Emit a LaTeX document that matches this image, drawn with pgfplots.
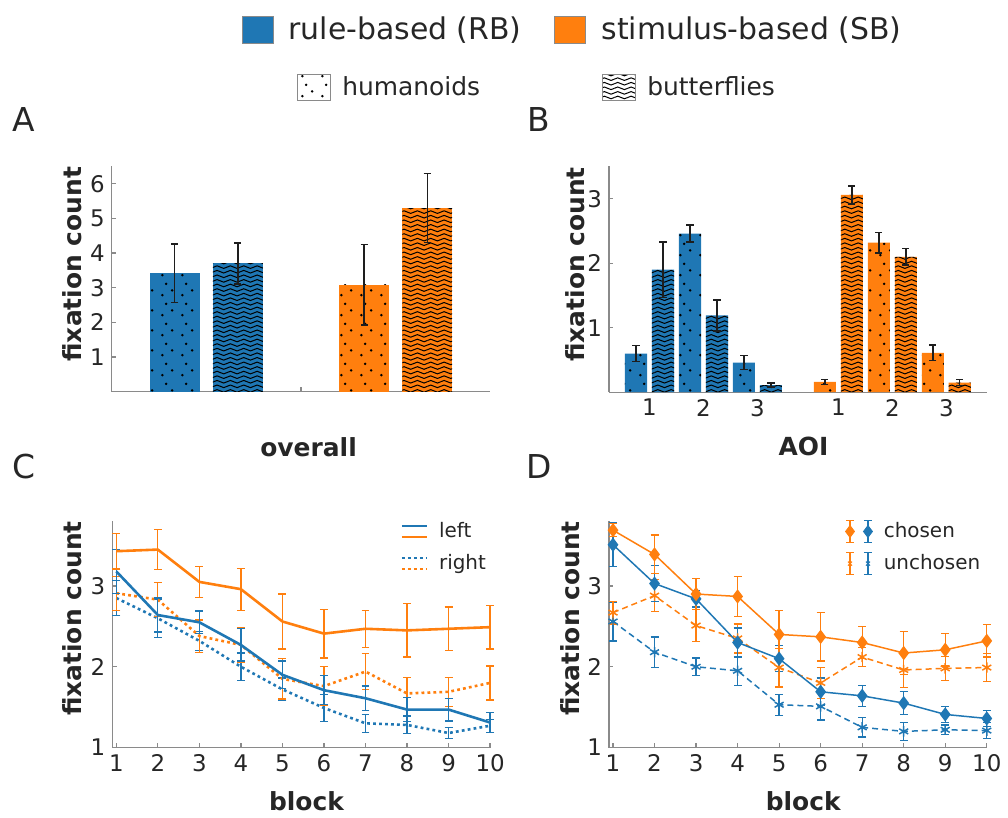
\documentclass[border=0pt]{standalone}
\usepackage{fontspec}
\setmainfont{DejaVu Sans}
\usepackage{pgfplots}
\pgfplotsset{compat=1.18}
\usepackage{pgfplotstable}
\usetikzlibrary{patterns.meta}

\definecolor{rb}{HTML}{1F77B4}
\definecolor{sb}{HTML}{FF7F0E}
\definecolor{axgray}{HTML}{8A8A8A}
\definecolor{txt}{HTML}{262626}
\definecolor{ebar}{HTML}{1E1E1E}

% fill patterns for the two stimulus sets
\tikzdeclarepattern{
  name=sparsedots, type=uncolored,
  bounding box={(0pt,0pt) and (10pt,10pt)},
  tile size={(10pt,10pt)},
  code={
    \fill (1.7pt,1.9pt) circle (0.7pt);
    \fill (6.6pt,4.3pt) circle (0.7pt);
    \fill (3.6pt,7.6pt) circle (0.7pt);
  }
}
\tikzdeclarepattern{
  name=waves, type=uncolored,
  bounding box={(-0.2pt,-1.3pt) and (6.9pt,1.3pt)},
  tile size={(6.7pt,2.3pt)},
  code={
    \draw[line width=0.5pt] (0pt,0pt) sin (1.675pt,0.65pt) cos (3.35pt,0pt)
      sin (5.025pt,-0.65pt) cos (6.7pt,0pt);
  }
}

\pgfplotsset{
  panel/.style={
    scale only axis,
    axis x line*=bottom, axis y line*=left,
    axis line style={axgray, line width=0.6pt},
    every tick/.style={axgray, line width=0.6pt},
    tick align=inside,
    major tick length=2.2pt,
    ticklabel style={text=txt, font=\fontsize{11.5}{13}\selectfont},
    /pgf/number format/assume math mode=true,
    label style={text=txt, font=\bfseries\fontsize{12.5}{14}\selectfont},
    clip=false,
  },
  barerr/.style={
    draw=none, mark=none,
    error bars/.cd, y dir=both, y explicit,
    error bar style={draw=ebar, line width=0.7pt},
    error mark options={draw=ebar, rotate=90, line width=0.7pt, mark size=1.8pt},
    /pgfplots/.cd,
  },
  lineerr/.style={
    error bars/.cd, y dir=both, y explicit,
    error bar style={solid, line width=0.65pt},
    error mark options={solid, rotate=90, line width=0.65pt, mark size=2pt},
    /pgfplots/.cd,
  },
  keyleg/.style={
    legend style={draw=none, fill=none, anchor=north west, inner sep=0pt,
      row sep=4pt, font=\fontsize{10}{12}\selectfont, text=txt,
      nodes={inner sep=1.5pt},
      /tikz/every odd column/.append style={column sep=4pt}},
    legend cell align=left,
  },
}

% panel A: overall fixation count
\pgfplotstableread{
x y e
1 3.42 0.84
}\ArbDots
\pgfplotstableread{
x y e
2 3.70 0.59
}\ArbWaves
\pgfplotstableread{
x y e
4 3.08 1.16
}\AsbDots
\pgfplotstableread{
x y e
5 5.30 1.00
}\AsbWaves

% panel B: fixation count per AOI
\pgfplotstableread{
x  y    e
1  0.60 0.12
3  2.46 0.13
5  0.46 0.11
}\BrbDots
\pgfplotstableread{
x  y    e
2  1.90 0.43
4  1.19 0.24
6  0.11 0.03
}\BrbWaves
\pgfplotstableread{
x  y    e
8  0.16 0.04
10 2.32 0.16
12 0.61 0.12
}\BsbDots
\pgfplotstableread{
x  y    e
9  3.06 0.14
11 2.10 0.13
13 0.15 0.05
}\BsbWaves

% panel C: left / right position by block
\pgfplotstableread{
x  rbL  rbLe sbL  sbLe rbR  rbRe sbR  sbRe
1  3.18 0.27 3.43 0.22 2.85 0.22 2.91 0.21
2  2.64 0.21 3.45 0.25 2.60 0.24 2.83 0.21
3  2.55 0.14 3.05 0.19 2.32 0.12 2.38 0.20
4  2.27 0.20 2.96 0.26 2.00 0.17 2.27 0.21
5  1.90 0.17 2.56 0.34 1.72 0.14 1.85 0.25
6  1.71 0.18 2.41 0.30 1.49 0.17 1.76 0.24
7  1.61 0.15 2.47 0.23 1.30 0.11 1.94 0.22
8  1.47 0.15 2.45 0.33 1.28 0.11 1.67 0.20
9  1.47 0.14 2.47 0.27 1.18 0.07 1.69 0.18
10 1.31 0.12 2.49 0.27 1.27 0.08 1.80 0.21
}\Cdata

% panel D: chosen / unchosen option by block
\pgfplotstableread{
x  sbC  sbCe rbC  rbCe sbU  sbUe rbU  rbUe
1  3.69 0.08 3.51 0.27 2.67 0.14 2.56 0.24
2  3.39 0.24 3.03 0.22 2.88 0.20 2.18 0.19
3  2.90 0.19 2.84 0.10 2.51 0.20 2.00 0.11
4  2.87 0.25 2.30 0.18 2.35 0.18 1.95 0.18
5  2.40 0.30 2.10 0.16 1.99 0.24 1.53 0.13
6  2.37 0.30 1.69 0.17 1.80 0.19 1.51 0.17
7  2.30 0.20 1.64 0.13 2.12 0.12 1.25 0.12
8  2.17 0.27 1.55 0.14 1.96 0.22 1.20 0.11
9  2.21 0.20 1.41 0.10 1.98 0.15 1.22 0.06
10 2.32 0.20 1.36 0.10 1.99 0.17 1.21 0.10
}\Ddata

\begin{document}
\begin{tikzpicture}
\begin{scope}[x=0.5pt,y=-0.5pt]
  \path[use as bounding box] (0,0) rectangle (1008,818);
  \coordinate (pA) at (112,393);
  \coordinate (pB) at (611,393.5);
  \coordinate (pC) at (112.7,750);
  \coordinate (pD) at (611,750);
  % shared legend
  \fill[rb, draw=axgray, line width=0.4pt] (243,16) rectangle (274,44);
  \node[anchor=base west, inner sep=0pt, text=txt, font=\fontsize{15}{17}\selectfont] at (289,40) {rule-based (RB)};
  \fill[sb, draw=axgray, line width=0.4pt] (556,16) rectangle (587,44);
  \node[anchor=base west, inner sep=0pt, text=txt, font=\fontsize{15}{17}\selectfont] at (603,40) {stimulus-based (SB)};
  \draw[axgray, line width=0.4pt, pattern=sparsedots, pattern color=black] (298,75) rectangle (331,101);
  \node[anchor=base west, inner sep=0pt, text=txt, font=\fontsize{12.5}{15}\selectfont] at (343,96) {humanoids};
  \draw[axgray, line width=0.4pt, pattern=waves, pattern color=black] (604,75) rectangle (637,101);
  \node[anchor=base west, inner sep=0pt, text=txt, font=\fontsize{12.5}{15}\selectfont] at (649,96) {butterflies};
  % panel letters
  \foreach \l/\px/\py in {A/24/120, B/541/120, C/24/468, D/541/468}
    \node[text=txt, font=\fontsize{16.5}{18}\selectfont] at (\px,\py) {\l};
\end{scope}

% ---------- A ----------
\begin{axis}[panel, at={(pA)}, anchor=south west,
  width=190pt, height=113pt,
  xmin=0, xmax=6, ymin=0, ymax=6.5,
  xtick={1,2,3,4,5}, xticklabels={},
  ytick={1,2,3,4,5,6},
  xlabel={overall}, ylabel={fixation count},
  xlabel style={at={(axis description cs:0.52,-0.288)}, anchor=base},
  ylabel style={at={(axis description cs:-0.103,0.566)}, anchor=center},
]
  \addplot[ybar, bar width=0.79, bar shift=0pt, fill=rb, draw=none,
    postaction={pattern=sparsedots, pattern color=black}] table[x=x, y=y] {\ArbDots};
  \addplot[ybar, bar width=0.79, bar shift=0pt, fill=sb, draw=none,
    postaction={pattern=sparsedots, pattern color=black}] table[x=x, y=y] {\AsbDots};
  \addplot[ybar, bar width=0.79, bar shift=0pt, fill=rb, draw=none,
    postaction={pattern=waves, pattern color=black}] table[x=x, y=y] {\ArbWaves};
  \addplot[ybar, bar width=0.79, bar shift=0pt, fill=sb, draw=none,
    postaction={pattern=waves, pattern color=black}] table[x=x, y=y] {\AsbWaves};
  \addplot[barerr] table[x=x, y=y, y error=e] {\ArbDots};
  \addplot[barerr] table[x=x, y=y, y error=e] {\ArbWaves};
  \addplot[barerr] table[x=x, y=y, y error=e] {\AsbDots};
  \addplot[barerr] table[x=x, y=y, y error=e] {\AsbWaves};
\end{axis}

% ---------- B ----------
\begin{axis}[panel, at={(pB)}, anchor=south west,
  width=189.5pt, height=113.25pt,
  xmin=0, xmax=14, ymin=0, ymax=3.5,
  xtick={1.5,3.5,5.5,8.5,10.5,12.5}, xticklabels={1,2,3,1,2,3},
  xtick style={draw=none},
  ytick={1,2,3},
  xlabel={AOI}, ylabel={fixation count},
  xlabel style={at={(axis description cs:0.515,-0.28)}, anchor=base},
  ylabel style={at={(axis description cs:-0.09,0.566)}, anchor=center},
]
  \addplot[ybar, bar width=0.82, bar shift=0pt, fill=rb, draw=none,
    postaction={pattern=sparsedots, pattern color=black}] table[x=x, y=y] {\BrbDots};
  \addplot[ybar, bar width=0.82, bar shift=0pt, fill=rb, draw=none,
    postaction={pattern=waves, pattern color=black}] table[x=x, y=y] {\BrbWaves};
  \addplot[ybar, bar width=0.82, bar shift=0pt, fill=sb, draw=none,
    postaction={pattern=sparsedots, pattern color=black}] table[x=x, y=y] {\BsbDots};
  \addplot[ybar, bar width=0.82, bar shift=0pt, fill=sb, draw=none,
    postaction={pattern=waves, pattern color=black}] table[x=x, y=y] {\BsbWaves};
  \addplot[barerr] table[x=x, y=y, y error=e] {\BrbDots};
  \addplot[barerr] table[x=x, y=y, y error=e] {\BrbWaves};
  \addplot[barerr] table[x=x, y=y, y error=e] {\BsbDots};
  \addplot[barerr] table[x=x, y=y, y error=e] {\BsbWaves};
\end{axis}

% ---------- C ----------
\begin{axis}[panel, keyleg, at={(pC)}, anchor=south west,
  width=189.5pt, height=113.5pt,
  xmin=0.904, xmax=10, ymin=1, ymax=3.8,
  xtick={1,...,10}, ytick={1,2,3},
  xlabel={block}, ylabel={fixation count},
  xlabel style={at={(axis description cs:0.514,-0.2775)}, anchor=base},
  ylabel style={at={(axis description cs:-0.105,0.57)}, anchor=center},
  legend style={at={(axis description cs:0.762,1.01)}},
]
  \addplot[rb, dash pattern=on 1.4pt off 1.6pt, line width=1.3pt, forget plot, lineerr]
    table[x=x, y=rbR, y error=rbRe] {\Cdata};
  \addplot[sb, dash pattern=on 1.4pt off 1.6pt, line width=1.3pt, forget plot, lineerr]
    table[x=x, y=sbR, y error=sbRe] {\Cdata};
  \addplot[rb, line width=1.3pt,
    legend image code/.code={
      \draw[rb, solid, line width=1.3pt] (0pt,2.75pt) -- (12.5pt,2.75pt);
      \draw[sb, solid, line width=1.3pt] (0pt,-2.75pt) -- (12.5pt,-2.75pt);}, lineerr]
    table[x=x, y=rbL, y error=rbLe] {\Cdata};
  \addlegendentry{left}
  \addplot[sb, line width=1.3pt, forget plot, lineerr]
    table[x=x, y=sbL, y error=sbLe] {\Cdata};
  \addlegendimage{legend image code/.code={
      \draw[rb, line width=1.3pt, dash pattern=on 1.4pt off 1.6pt] (0pt,2.75pt) -- (12.5pt,2.75pt);
      \draw[sb, line width=1.3pt, dash pattern=on 1.4pt off 1.6pt] (0pt,-2.75pt) -- (12.5pt,-2.75pt);}}
  \addlegendentry{right}
\end{axis}

% ---------- D ----------
\begin{axis}[panel, keyleg, at={(pD)}, anchor=south west,
  width=189.5pt, height=113.5pt,
  xmin=0.904, xmax=10, ymin=1, ymax=3.8,
  xtick={1,...,10}, ytick={1,2,3},
  xlabel={block}, ylabel={fixation count},
  xlabel style={at={(axis description cs:0.514,-0.2775)}, anchor=base},
  ylabel style={at={(axis description cs:-0.103,0.57)}, anchor=center},
  legend style={at={(axis description cs:0.624,1.01)}},
]
  \addplot[rb, dash pattern=on 3pt off 2pt, line width=0.75pt,
    mark=asterisk, mark size=2.6pt, mark options={solid}, forget plot, lineerr]
    table[x=x, y=rbU, y error=rbUe] {\Ddata};
  \addplot[sb, dash pattern=on 3pt off 2pt, line width=0.75pt,
    mark=asterisk, mark size=2.6pt, mark options={solid}, forget plot, lineerr]
    table[x=x, y=sbU, y error=sbUe] {\Ddata};
  \addplot[rb, line width=0.75pt, mark=diamond*, mark size=3pt, forget plot, lineerr]
    table[x=x, y=rbC, y error=rbCe] {\Ddata};
  \addplot[sb, line width=0.75pt, mark=diamond*, mark size=3pt, forget plot, lineerr]
    table[x=x, y=sbC, y error=sbCe] {\Ddata};
  \addlegendimage{legend image code/.code={
      \foreach \c/\dx in {sb/2, rb/11}{
        \draw[\c, solid, line width=0.65pt] (\dx pt,-5.5pt) -- (\dx pt,5.5pt)
          (\dx pt-2pt,-5.5pt) -- (\dx pt+2pt,-5.5pt) (\dx pt-2pt,5.5pt) -- (\dx pt+2pt,5.5pt);
        \fill[\c] (\dx pt,3pt) -- (\dx pt+2.25pt,0pt) -- (\dx pt,-3pt) -- (\dx pt-2.25pt,0pt) -- cycle;
      }}}
  \addlegendentry{chosen}
  \addlegendimage{legend image code/.code={
      \foreach \c/\dx in {sb/2, rb/11}{
        \draw[\c, solid, line width=0.65pt] (\dx pt,-5.5pt) -- (\dx pt,5.5pt)
          (\dx pt-2pt,-5.5pt) -- (\dx pt+2pt,-5.5pt) (\dx pt-2pt,5.5pt) -- (\dx pt+2pt,5.5pt);
        \draw[\c, solid, line width=0.5pt] (\dx pt-1pt,-1pt) -- (\dx pt+1pt,1pt) (\dx pt-1pt,1pt) -- (\dx pt+1pt,-1pt);
      }}}
  \addlegendentry{unchosen}
\end{axis}
\end{tikzpicture}
\end{document}
